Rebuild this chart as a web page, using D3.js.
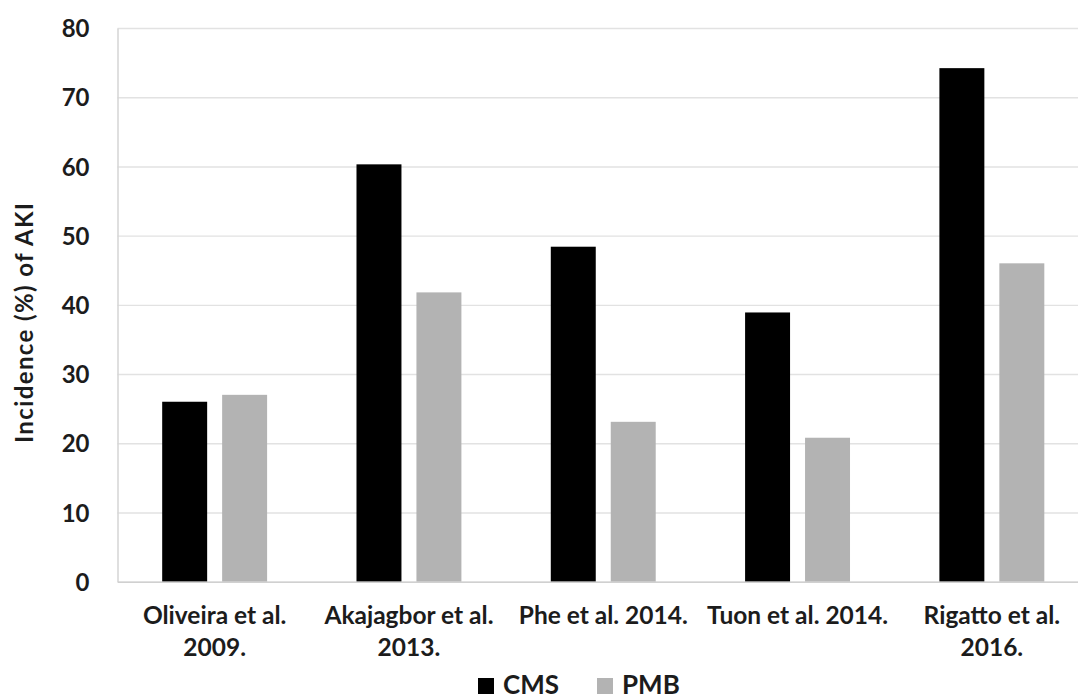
<!DOCTYPE html>
<html>
<head>
<meta charset="utf-8">
<script src="https://cdn.jsdelivr.net/npm/d3@7"></script>
<style>
  html, body { margin: 0; padding: 0; background: #fff; }
  svg { display: block; }
  text { font-family: Lato, "Open Sans", sans-serif; fill: #1c1c1c; }
</style>
</head>
<body>
<svg id="chart" width="1078" height="700"></svg>
<script>
// Studies, each label split over its two printed lines
const studies = ["Oliveira et al. 2009.", "Akajagbor et al. 2013.", "Phe et al. 2014.", "Tuon et al. 2014.", "Rigatto et al. 2016."];
const studyLines = [["Oliveira et al.", "2009."], ["Akajagbor et al.", "2013."], ["Phe et al. 2014."], ["Tuon et al. 2014."], ["Rigatto et al.", "2016."]];
const seriesNames = ["CMS", "PMB"];
const cmsValues = [26, 60.3, 48.4, 38.9, 74.2];
const pmbValues = [27, 41.8, 23.1, 20.8, 46];
const yTicks = [0, 10, 20, 30, 40, 50, 60, 70, 80];
const seriesColors = ["#000000", "#b3b3b3"];
const yTitle = "Incidence (%) of AKI";

const svg = d3.select("#chart");
const W = 1078, H = 700;
const plot = { left: 117.5, right: 1089, top: 28, bottom: 581.7 };

svg.append("defs").append("clipPath").attr("id", "clip")
  .append("rect").attr("x", 0).attr("y", 0).attr("width", W).attr("height", H);

const root = svg.append("g").attr("clip-path", "url(#clip)");

const x0 = d3.scaleBand().domain(studies).range([plot.left, plot.right])
  .paddingInner(0.46).paddingOuter(0.23);
const x1 = d3.scaleBand().domain(seriesNames).range([0, x0.bandwidth()]).paddingInner(0.25);
const y = d3.scaleLinear().domain([0, 80]).range([plot.bottom, plot.top]);

// horizontal gridlines
const grid = d3.axisLeft(y).tickValues(yTicks).tickSize(-(plot.right - plot.left)).tickFormat("");
const gGrid = root.append("g").attr("transform", `translate(${plot.left},0)`).call(grid);
gGrid.select(".domain").remove();
gGrid.selectAll(".tick line").attr("stroke", "#e2e2e2").attr("stroke-width", 1.4);

// left axis line and y tick labels
const yAxis = d3.axisLeft(y).tickValues(yTicks).tickSize(0).tickPadding(28);
const gY = root.append("g").attr("transform", `translate(${plot.left},0)`).call(yAxis);
gY.select(".domain").attr("stroke", "#d4d4d4").attr("stroke-width", 1.5);
gY.selectAll(".tick text")
  .attr("font-family", "Lato, sans-serif")
  .attr("font-size", 24).attr("font-weight", 700).attr("fill", "#1c1c1c")
  .attr("dy", "0.36em");

// bars
const data = studies.map((s, i) => ({ study: s, values: [cmsValues[i], pmbValues[i]] }));
const groups = root.append("g").selectAll("g").data(data).join("g")
  .attr("transform", d => `translate(${x0(d.study)},0)`);
groups.selectAll("rect")
  .data(d => d.values.map((v, j) => ({ key: seriesNames[j], value: v, color: seriesColors[j] })))
  .join("rect")
  .attr("x", d => x1(d.key))
  .attr("width", x1.bandwidth())
  .attr("y", d => y(d.value))
  .attr("height", d => y(0) - y(d.value))
  .attr("fill", d => d.color);

// baseline
const xAxis = d3.axisBottom(x0).tickSize(0).tickFormat("");
const gX = root.append("g").attr("transform", `translate(0,${plot.bottom})`).call(xAxis);
gX.select(".domain").attr("stroke", "#d0d0d0").attr("stroke-width", 1.6);

// category labels
const labels = root.append("g");
studies.forEach((s, i) => {
  const cx = x0(s) + x0.bandwidth() / 2;
  studyLines[i].forEach((line, k) => {
    labels.append("text")
      .attr("x", cx).attr("y", 624 + k * 32)
      .attr("text-anchor", "middle")
      .attr("font-size", 24.5).attr("font-weight", 700)
      .text(line);
  });
});

// y-axis title
root.append("text")
  .attr("transform", "translate(33,323) rotate(-90)")
  .attr("text-anchor", "middle")
  .attr("font-size", 24).attr("font-weight", 700)
  .attr("textLength", 240)
  .attr("lengthAdjust", "spacing")
  .text(yTitle);

// legend
const legend = root.append("g");
const legendX = [478, 597];
seriesNames.forEach((name, i) => {
  legend.append("rect")
    .attr("x", legendX[i]).attr("y", 678).attr("width", 16).attr("height", 16)
    .attr("fill", seriesColors[i]);
  legend.append("text")
    .attr("x", legendX[i] + 25).attr("y", 694)
    .attr("font-size", 26).attr("font-weight", 700)
    .text(name);
});
</script>
</body>
</html>
